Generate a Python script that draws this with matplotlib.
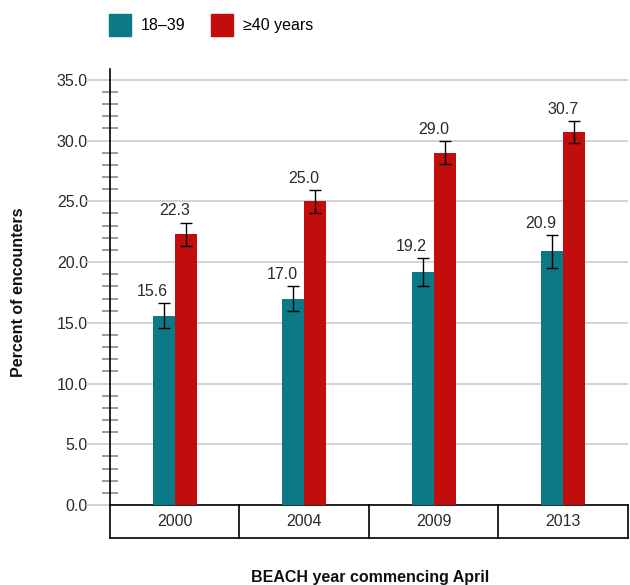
import numpy as np
import matplotlib
matplotlib.use("Agg")
import matplotlib.pyplot as plt
from matplotlib.ticker import MultipleLocator
from matplotlib.patches import Patch

plt.rcParams["font.family"] = ["Liberation Sans", "DejaVu Sans"]

years = ["2000", "2004", "2009", "2013"]
young = [15.6, 17.0, 19.2, 20.9]
old = [22.3, 25.0, 29.0, 30.7]
young_err = [1.0, 1.0, 1.15, 1.35]
old_err = [0.95, 0.95, 0.95, 0.9]
series_names = ["18\u201339", "\u226540 years"]

teal = "#0b7a86"
red = "#c10d0b"
txt = "#2a2a2a"

fig = plt.figure(figsize=(6.3, 5.85), dpi=100)
ax = fig.add_axes([0.1746, 0.1368, 0.822, 0.7453])

x = np.arange(len(years))
w = 0.17
ax.bar(x - w / 2, young, w, color=teal, zorder=3)
ax.bar(x + w / 2, old, w, color=red, zorder=3)
ax.errorbar(x - w / 2, young, yerr=young_err, fmt="none", ecolor="black",
            elinewidth=1, capsize=4.5, capthick=1, zorder=4)
ax.errorbar(x + w / 2, old, yerr=old_err, fmt="none", ecolor="black",
            elinewidth=1, capsize=4.5, capthick=1, zorder=4)

for i in range(len(years)):
    ax.annotate(f"{young[i]:.1f}", (x[i] - w / 2, young[i] + young_err[i]),
                xytext=(-8, 3), textcoords="offset points", ha="center",
                va="bottom", fontsize=11.5, color=txt)
    ax.annotate(f"{old[i]:.1f}", (x[i] + w / 2, old[i] + old_err[i]),
                xytext=(-8, 3), textcoords="offset points", ha="center",
                va="bottom", fontsize=11.5, color=txt)

ax.set_xlim(-0.5, len(years) - 0.5)
ax.set_ylim(0, 35.9)
ax.yaxis.set_minor_locator(MultipleLocator(1))
ax.set_yticks(np.arange(0, 36, 5))
ax.set_yticklabels([f"{v:.1f}" for v in np.arange(0, 36, 5)], fontsize=11.5, color=txt)
ax.tick_params(axis="y", which="major", length=0, pad=16)
ax.tick_params(axis="y", which="minor", direction="inout", length=12, width=1.2, color="#8a8a8a")
ax.grid(axis="y", which="major", color="#cccccc", linewidth=1.2, zorder=0)
for v in np.arange(0, 36, 5):
    ax.plot([-0.045, 0], [v, v], transform=ax.get_yaxis_transform(),
            color="#cccccc", lw=1.2, clip_on=False)

for s in ["top", "right"]:
    ax.spines[s].set_visible(False)
ax.spines["left"].set_linewidth(1.2)
ax.spines["bottom"].set_linewidth(1.2)
ax.set_xticks([])

# category table under the axis
tr = ax.get_xaxis_transform()
h = -0.0757
ax.plot([-0.5, len(years) - 0.5], [h, h], transform=tr, color="black", lw=1.2, clip_on=False)
for b in np.arange(-0.5, len(years), 1):
    ax.plot([b, b], [0, h], transform=tr, color="black", lw=1.2, clip_on=False)
for i, yr in enumerate(years):
    ax.text(x[i], h / 2, yr, transform=tr, ha="center", va="center",
            fontsize=11.5, color=txt)

fig.text(0.587, 0.0, "BEACH year commencing April", ha="center", va="bottom",
         fontsize=11.5, fontweight="bold", color="#111111")
fig.text(0.03, 0.5, "Percent of encounters", rotation=90, ha="center",
         va="center", fontsize=11.5, fontweight="bold", color="#111111")

handles = [Patch(color=teal), Patch(color=red)]
fig.legend(handles, series_names, loc="upper left", bbox_to_anchor=(0.152, 0.998),
           ncol=2, frameon=False, fontsize=11.5, handlelength=1.4, handleheight=1.75,
           columnspacing=1.6, handletextpad=0.6, borderaxespad=0.4)

fig.savefig("out.png", dpi=100)
